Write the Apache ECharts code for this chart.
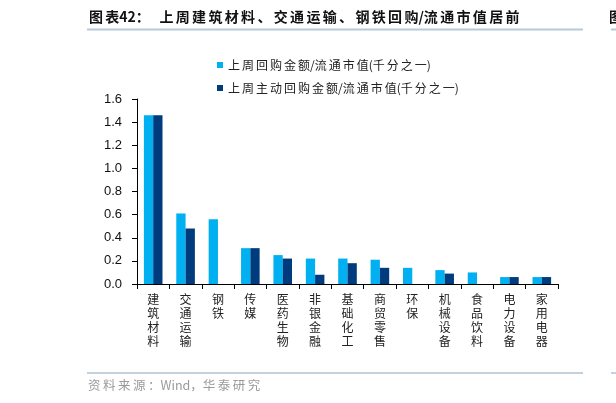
<!DOCTYPE html>
<html lang="zh">
  <head>
    <meta charset="UTF-8" />
    <title>上周回购金额/流通市值</title>
    <script src="https://cdn.jsdelivr.net/npm/echarts@6/dist/echarts.min.js"></script>
    <style>
      html, body { margin: 0; padding: 0; background: #fff; }
      #chart { width: 616px; height: 403px; }
    </style>
  </head>
  <body>
    <div id="chart"></div>
    <script>
      // 行业
      var categories = ["建筑材料", "交通运输", "钢铁", "传媒", "医药生物", "非银金融", "基础化工",
        "商贸零售", "环保", "机械设备", "食品饮料", "电力设备", "家用电器"];
      // 上周回购金额/流通市值(千分之一)
      var buyback = [1.46, 0.61, 0.56, 0.31, 0.25, 0.22, 0.22, 0.21, 0.14, 0.12, 0.10, 0.06, 0.06];
      // 上周主动回购金额/流通市值(千分之一)
      var activeBuyback = [1.46, 0.48, 0, 0.31, 0.22, 0.08, 0.18, 0.14, 0, 0.09, 0, 0.06, 0.06];
      var yTicks = [0, 0.2, 0.4, 0.6, 0.8, 1.0, 1.2, 1.4, 1.6];

      var seriesNames = ["上周回购金额/流通市值(千分之一)", "上周主动回购金额/流通市值(千分之一)"];
      var cjk = '"Noto Sans CJK SC", sans-serif';

      // 原图字距较宽：只在相邻汉字之间插入窄空格
      function spread(s, sp) {
        var out = "";
        for (var i = 0; i < s.length; i++) {
          out += s[i];
          if (i < s.length - 1 && /[\u4e00-\u9fff、：，]/.test(s[i]) && /[\u4e00-\u9fff、：，]/.test(s[i + 1])) {
            out += sp;
          }
        }
        return out;
      }

      var chart = echarts.init(document.getElementById("chart"));
      var option = {
        backgroundColor: "#fff",
        animation: false,
        graphic: [
          { type: "text", left: 89, top: 10,
            style: { text: spread("图表", "\u2006") + "42：   " + spread("上周建筑材料、交通运输、钢铁回购", "\u2006") + "/" + spread("流通市值居前", "\u2006"),
              font: "bold 14px " + cjk, fill: "#111" } },
          { type: "text", left: 609, top: 10,
            style: { text: "图", font: "bold 14px " + cjk, fill: "#111" } },
          { type: "line", shape: { x1: 87, y1: 29.5, x2: 583, y2: 29.5 }, style: { stroke: "#b8c8d8", lineWidth: 2 } },
          { type: "line", shape: { x1: 611, y1: 29.5, x2: 616, y2: 29.5 }, style: { stroke: "#b8c8d8", lineWidth: 2 } },
          { type: "line", shape: { x1: 87, y1: 373, x2: 583, y2: 373 }, style: { stroke: "#c4d0dc", lineWidth: 2 } },
          { type: "line", shape: { x1: 611, y1: 373, x2: 616, y2: 373 }, style: { stroke: "#c4d0dc", lineWidth: 2 } },
          { type: "text", left: 88, top: 379,
            style: { text: spread("资料来源：", "\u2009") + "Wind，" + spread("华泰研究", "\u2009"), font: "12.5px " + cjk, fill: "#9a9a9a" } }
        ],
        legend: {
          orient: "vertical",
          left: 212,
          top: 54,
          itemWidth: 6,
          itemHeight: 6,
          itemGap: 11,
          icon: "rect",
          textStyle: { fontFamily: cjk, fontSize: 12, color: "#222" },
          formatter: function (name) { return spread(name, "\u2006"); },
          data: seriesNames
        },
        grid: { left: 137, right: 58, top: 99, bottom: 119, containLabel: false },
        xAxis: {
          type: "category",
          data: categories,
          axisLine: { lineStyle: { color: "#000", width: 1 } },
          axisTick: { show: true, length: 5, lineStyle: { color: "#000" } },
          axisLabel: {
            interval: 0,
            margin: 8,
            fontFamily: cjk,
            fontSize: 12,
            lineHeight: 14,
            color: "#222",
            formatter: function (v) { return v.split("").join("\n"); }
          }
        },
        yAxis: {
          type: "value",
          min: yTicks[0],
          max: yTicks[yTicks.length - 1],
          interval: 0.2,
          splitLine: { show: false },
          axisLine: { show: true, lineStyle: { color: "#000" } },
          axisTick: { show: true, length: 5, lineStyle: { color: "#000" } },
          axisLabel: {
            margin: 15,
            fontFamily: "Liberation Sans, Arial, sans-serif",
            fontSize: 13,
            color: "#111",
            formatter: function (v) { return v.toFixed(1); }
          }
        },
        series: [
          { name: seriesNames[0], type: "bar", data: buyback, barWidth: 9.3, barGap: "0%",
            itemStyle: { color: "#00b0f0" } },
          { name: seriesNames[1], type: "bar", data: activeBuyback, barWidth: 9.3, barGap: "0%",
            itemStyle: { color: "#003b7d" } }
        ]
      };
      chart.setOption(option);
    </script>
  </body>
</html>
